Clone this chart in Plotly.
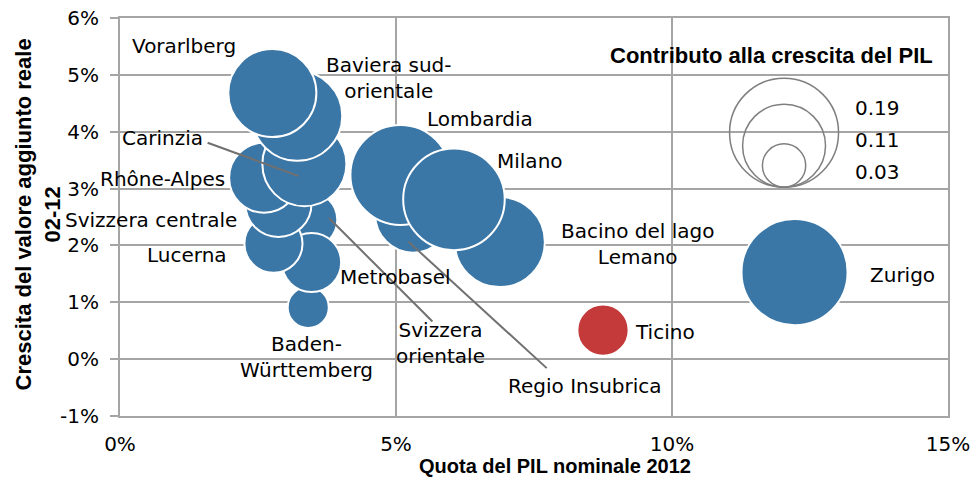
import plotly.graph_objects as go

# ---------------- data ----------------
regions = ["Baden-<br>Württemberg", "Svizzera<br>orientale", "Metrobasel", "Lucerna",
           "Svizzera centrale", "Rhône-Alpes", "Carinzia", "Baviera sud-<br>orientale",
           "Vorarlberg", "Regio Insubrica", "Lombardia", "Bacino del lago<br>Lemano",
           "Milano", "Ticino", "Zurigo"]
gdp_share = [0.0341, 0.0343, 0.0347, 0.0278, 0.0287, 0.0261, 0.0334, 0.0321,
             0.0276, 0.0531, 0.0508, 0.0688, 0.0605, 0.0875, 0.1222]
va_growth = [0.0091, 0.0245, 0.0170, 0.0203, 0.0273, 0.0319, 0.0343, 0.0428,
             0.0468, 0.0254, 0.0324, 0.0206, 0.0281, 0.0051, 0.0153]
contribution = [0.027, 0.050, 0.056, 0.054, 0.070, 0.078, 0.113, 0.130,
                0.124, 0.092, 0.160, 0.130, 0.165, 0.042, 0.180]
highlight = ["Ticino"]

legend_values = [0.19, 0.11, 0.03]
legend_labels = ["0.19", "0.11", "0.03"]

x_ticks = [0, 0.05, 0.10, 0.15]
x_ticklabels = ["0%", "5%", "10%", "15%"]
y_ticks = [-0.01, 0, 0.01, 0.02, 0.03, 0.04, 0.05, 0.06]
y_ticklabels = ["-1%", "0%", "1%", "2%", "3%", "4%", "5%", "6%"]

# label offsets in pixels (dx right, dy up) relative to bubble centres
label_dx = [-1.5, 131, 84, -86, -127, -101.5, -141.5, 92, -88, 172, 80, 137.5, 76, 61.5, 108]
label_dy = [-50, -123, -15, -11, -16.5, -1, 26, 38, 47, -171, 56, -2, 38.5, -2, -3]

# leader lines (data coords) : (x0, y0, x1, y1)
leaders = [
    (0.01587, 0.03807, 0.03234, 0.03221),   # Carinzia
    (0.03790, 0.02478, 0.05660, 0.00661),   # Svizzera orientale
    (0.05225, 0.02067, 0.07730, -0.00158),  # Regio Insubrica
]

# ---------------- style ----------------
BLUE = "#3A76A6"
RED = "#C4393A"
GRID = "#A5A5A5"
PX_PER_SQRT = 125.0                     # radius(px) = 125*sqrt(value)
SIZEREF = 1.0 / (2 * PX_PER_SQRT ** 2)  # plotly 'area' sizing
LABEL_FONT = dict(family="DejaVu Sans", size=20, color="black")
BOLD_FONT = "Liberation Sans"

plain_names = [r.replace("<br>", " ") for r in regions]
colors = [RED if n in highlight else BLUE for n in plain_names]

fig = go.Figure()
fig.add_trace(go.Scatter(
    x=gdp_share, y=va_growth, mode="markers",
    text=plain_names,
    marker=dict(size=contribution, sizemode="area", sizeref=SIZEREF,
                color=colors, opacity=1, line=dict(color="white", width=2)),
    hoverinfo="text", showlegend=False,
))

annotations = []
for name, x, y, dx, dy in zip(regions, gdp_share, va_growth, label_dx, label_dy):
    annotations.append(dict(x=x, y=y, xref="x", yref="y", text=name, showarrow=False,
                            xshift=dx, yshift=dy, xanchor="center", yanchor="middle",
                            font=LABEL_FONT, align="center"))

shapes = []
for x0, y0, x1, y1 in leaders:
    shapes.append(dict(type="line", xref="x", yref="y", x0=x0, y0=y0, x1=x1, y1=y1,
                       line=dict(color="#707070", width=2), layer="above"))

# bubble-size legend (concentric circles sitting on a common base)
for v in legend_values:
    r = PX_PER_SQRT * v ** 0.5
    shapes.append(dict(type="circle", xref="paper", yref="paper",
                       xsizemode="pixel", ysizemode="pixel",
                       xanchor=0.802, yanchor=0.575,
                       x0=-r, x1=r, y0=0, y1=2 * r,
                       line=dict(color="#7F7F7F", width=1.5), fillcolor="rgba(0,0,0,0)",
                       layer="above"))
for lab, yp in zip(legend_labels, [0.774, 0.693, 0.613]):
    annotations.append(dict(x=0.885, y=yp, xref="paper", yref="paper", text=lab,
                            showarrow=False, xanchor="left", yanchor="middle",
                            font=LABEL_FONT))
annotations.append(dict(x=0.984, y=0.907, xref="paper", yref="paper",
                        text="<b>Contributo alla crescita del PIL</b>", showarrow=False,
                        xanchor="right", yanchor="middle",
                        font=dict(family=BOLD_FONT, size=22, color="black")))

# axis titles
annotations.append(dict(x=-0.0985, y=0.5075, xref="paper", yref="paper",
                        text="<b>Crescita del valore aggiunto reale<br>02-12</b>",
                        textangle=-90, showarrow=False, xanchor="center", yanchor="middle",
                        font=dict(family=BOLD_FONT, size=22, color="black")))
annotations.append(dict(x=0.525, y=-0.126, xref="paper", yref="paper",
                        text="<b>Quota del PIL nominale 2012</b>", showarrow=False,
                        xanchor="center", yanchor="middle",
                        font=dict(family=BOLD_FONT, size=20, color="black")))

fig.update_layout(
    width=978, height=489,
    margin=dict(l=120, r=30, t=18, b=73, autoexpand=False),
    paper_bgcolor="white", plot_bgcolor="white",
    annotations=annotations, shapes=shapes,
    xaxis=dict(range=[0, 0.15], tickvals=x_ticks, ticktext=x_ticklabels,
               showgrid=True, gridcolor=GRID, gridwidth=2, zeroline=False,
               showline=True, linecolor=GRID, linewidth=2, mirror=True,
               ticks="", ticklabelstandoff=9, automargin=False,
               tickfont=dict(family="DejaVu Sans", size=20, color="black"), fixedrange=True),
    yaxis=dict(range=[-0.01, 0.06], tickvals=y_ticks, ticktext=y_ticklabels,
               showgrid=True, gridcolor=GRID, gridwidth=2, zeroline=False,
               showline=True, linecolor=GRID, linewidth=2, mirror=True,
               ticks="outside", ticklen=8, tickcolor=GRID, tickwidth=2,
               ticklabelstandoff=7, automargin=False, ticklabeloverflow="allow",
               tickfont=dict(family="DejaVu Sans", size=20, color="black"), fixedrange=True),
)

# remove the default 8px body margin of the page so the figure fills the window
fig.write_html("out.html",
               config={"displayModeBar": False, "staticPlot": False},
               post_script="document.body.style.margin='0px';document.body.style.overflow='hidden';")
